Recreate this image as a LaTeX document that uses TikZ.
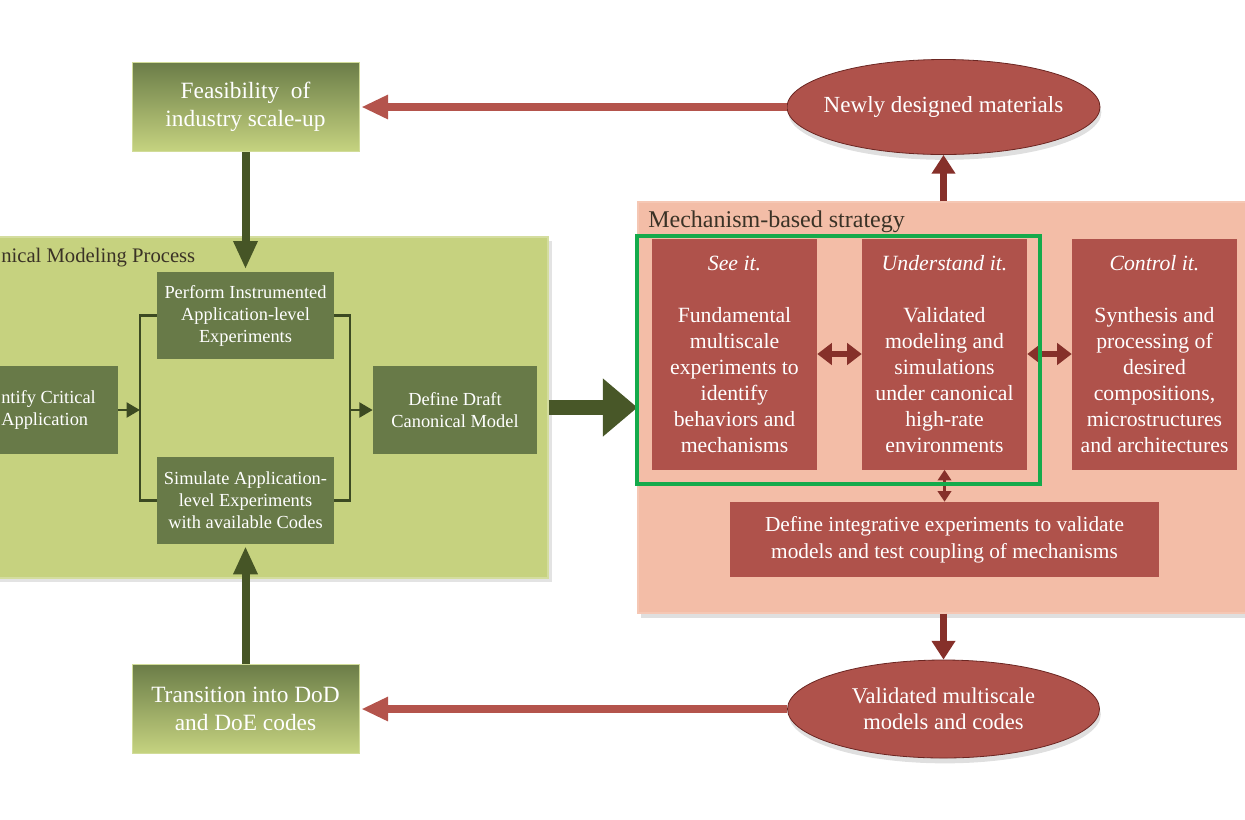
\documentclass[tikz,border=0pt]{standalone}
\usepackage{fontspec}
\setmainfont{Liberation Serif}
\usetikzlibrary{arrows.meta,shapes.geometric,shadows}
\definecolor{gpanel}{HTML}{C6D27F}
\definecolor{gbox}{HTML}{687A48}
\definecolor{garrow}{HTML}{465526}
\definecolor{gline}{HTML}{3C4A22}
\definecolor{gtop}{HTML}{6B7D48}
\definecolor{gbot}{HTML}{C6D380}
\definecolor{rpanel}{HTML}{F3BDA7}
\definecolor{rbox}{HTML}{AF524B}
\definecolor{rarrow}{HTML}{B4544C}
\definecolor{darrow}{HTML}{86302A}
\definecolor{hlgreen}{HTML}{14AA4B}
\definecolor{titletext}{HTML}{3A3226}
\begin{document}
\begin{tikzpicture}[x=0.75pt,y=-0.75pt,
  panelg/.style={rectangle, fill=gpanel, draw=gpanel!75!white, line width=0.8pt, inner sep=0pt,
    drop shadow={shadow xshift=3pt, shadow yshift=-3pt, opacity=0.22}},
  panelr/.style={rectangle, fill=rpanel, draw=rpanel!85!white, line width=0.8pt, inner sep=0pt,
    drop shadow={shadow xshift=2pt, shadow yshift=-4pt, opacity=0.25}},
  ptitle/.style={text=titletext, inner sep=0pt},
  topbox/.style={rectangle, top color=gtop, bottom color=gbot, draw=gbot!80!white, line width=0.5pt,
    text=white, align=center, inner sep=0pt, font=\fontsize{17.5}{21}\selectfont},
  gsmall/.style={rectangle, fill=gbox, text=white, align=center, inner sep=0pt,
    font=\fontsize{13.8}{16.5}\selectfont},
  rtall/.style={rectangle, fill=rbox, text=white, align=center, inner sep=0pt,
    minimum width=123.75pt, minimum height=173.25pt, font=\fontsize{16.3}{19.5}\selectfont},
  rwide/.style={rectangle, fill=rbox, text=white, align=center, inner sep=0pt,
    font=\fontsize{16}{20}\selectfont},
  ellip/.style={ellipse, fill=rbox, draw=darrow!80!black, line width=0.6pt, inner sep=0pt,
    drop shadow={shadow xshift=1pt, shadow yshift=-4pt, opacity=0.25}},
  etext/.style={text=white, align=center, inner sep=0pt},
  redarr/.style={draw=rarrow, line width=6pt, -{Triangle[length=20pt,width=17pt]}},
  garr/.style={draw=garrow, line width=6pt, -{Triangle[length=21pt,width=17pt]}},
  bigarr/.style={draw=garrow!95!gbox, line width=11.25pt, -{Triangle[length=26pt,width=42pt]}},
  darr/.style={draw=darrow, line width=5.25pt, -{Triangle[length=14pt,width=17pt]}},
  dblarr/.style={draw=darrow, line width=4.5pt, {Triangle[length=11pt,width=16pt]}-{Triangle[length=11pt,width=16pt]}},
  dblsmall/.style={draw=darrow, line width=2.5pt, {Triangle[length=8pt,width=10pt]}-{Triangle[length=8pt,width=10pt]}},
  bracket/.style={draw=gline, line width=2pt},
  smallarr/.style={draw=gline, line width=2.2pt, -{Triangle[length=10pt,width=11pt]}},
  hl/.style={rectangle, draw=hlgreen, line width=3pt, inner sep=0pt}
]
\useasboundingbox (0,0) rectangle (1245,819);
\clip (0,0) rectangle (1245,819);

% panels
\node[panelg, minimum width=426pt, minimum height=255.75pt] (canpanel) at (264,407.5) {};
\node[panelr, minimum width=470.25pt, minimum height=308.25pt] (strategy) at (951.5,407.5) {};
\node[ptitle, anchor=base west, font=\fontsize{15.5}{18}\selectfont] (cantitle) at (1,262) {nical Modeling Process};
\node[ptitle, anchor=base west, font=\fontsize{18}{21}\selectfont] (strtitle) at (648,227) {Mechanism-based strategy};

% outer green boxes
\node[topbox, minimum width=170.25pt, minimum height=66.75pt] (feas) at (245.5,107) {Feasibility\ \ of\\industry scale-up};
\node[topbox, minimum width=170.25pt, minimum height=66.75pt] (trans) at (245.5,709) {Transition into DoD\\and DoE codes};

% canonical modeling process boxes
\node[gsmall, minimum width=132.75pt, minimum height=65.25pt] (perform) at (245.5,315.5) {Perform Instrumented\\Application-level\\Experiments};
\node[gsmall, minimum width=132.75pt, minimum height=65.25pt] (simulate) at (245.5,500.5) {Simulate Application-\\level Experiments\\with available Codes};
\node[gsmall, minimum width=121.5pt, minimum height=66pt] (identify) at (37,410) {};
\node[gsmall, align=left, anchor=west] (identtext) at (1,410) {ntify Critical\\Application};
\node[gsmall, minimum width=123pt, minimum height=66pt] (define) at (455,410) {Define Draft\\Canonical Model};
\coordinate (lb) at (140,410);
\coordinate (rb) at (350,410);

% strategy boxes
\node[rtall] (seeit) at (734.5,354) {\textit{See it.}\\[19.5pt]Fundamental\\multiscale\\experiments to\\identify\\behaviors and\\mechanisms};
\node[rtall] (underst) at (944.5,354) {\textit{Understand it.}\\[19.5pt]Validated\\modeling and\\simulations\\under canonical\\high-rate\\environments};
\node[rtall] (control) at (1154.5,354) {\textit{Control it.}\\[19.5pt]Synthesis and\\processing of\\desired\\compositions,\\microstructures\\and architectures};
\node[rwide, minimum width=321.75pt, minimum height=56.25pt] (integ) at (944.5,539.5) {Define integrative experiments to validate\\models and test coupling of mechanisms};

% ellipses
\node[ellip, minimum width=234.75pt, minimum height=71.25pt,
  label={[etext, font=\fontsize{17.3}{20}\selectfont]center:Newly designed materials}] (newmat) at (943.5,107) {};
\node[ellip, minimum width=234pt, minimum height=73.5pt,
  label={[etext, font=\fontsize{16.9}{19.5}\selectfont]center:{Validated multiscale\\models and codes}}] (valid) at (943.5,709) {};

% connectors
\draw[redarr] (newmat.west) -- ([xshift=1.5pt]feas.east);
\draw[redarr] (valid.west) -- ([xshift=1.5pt]trans.east);
\draw[garr] (feas.south) -- ([yshift=2pt]perform.north);
\draw[garr] (trans.north) -- ([yshift=-1.5pt]simulate.south);
\draw[bracket] (perform.west) -| (lb) |- (simulate.west);
\draw[bracket] (perform.east) -| (rb) |- (simulate.east);
\draw[smallarr] (identify.east) -- (lb);
\draw[smallarr] (rb) -- (define.west);
\draw[bigarr] (canpanel.east) -- (strategy.west);
\draw[darr] (newmat.south |- strategy.north) -- (newmat.south);
\draw[darr] (valid.north |- strategy.south) -- (valid.north);
\draw[dblarr] (seeit.east) -- (underst.west);
\draw[dblarr] (underst.east) -- (control.west);
\draw[dblsmall] (underst.south) -- (integ.north);

% highlight frame
\node[hl, minimum width=302.25pt, minimum height=186pt] (focus) at (838.5,360) {};
\end{tikzpicture}
\end{document}
